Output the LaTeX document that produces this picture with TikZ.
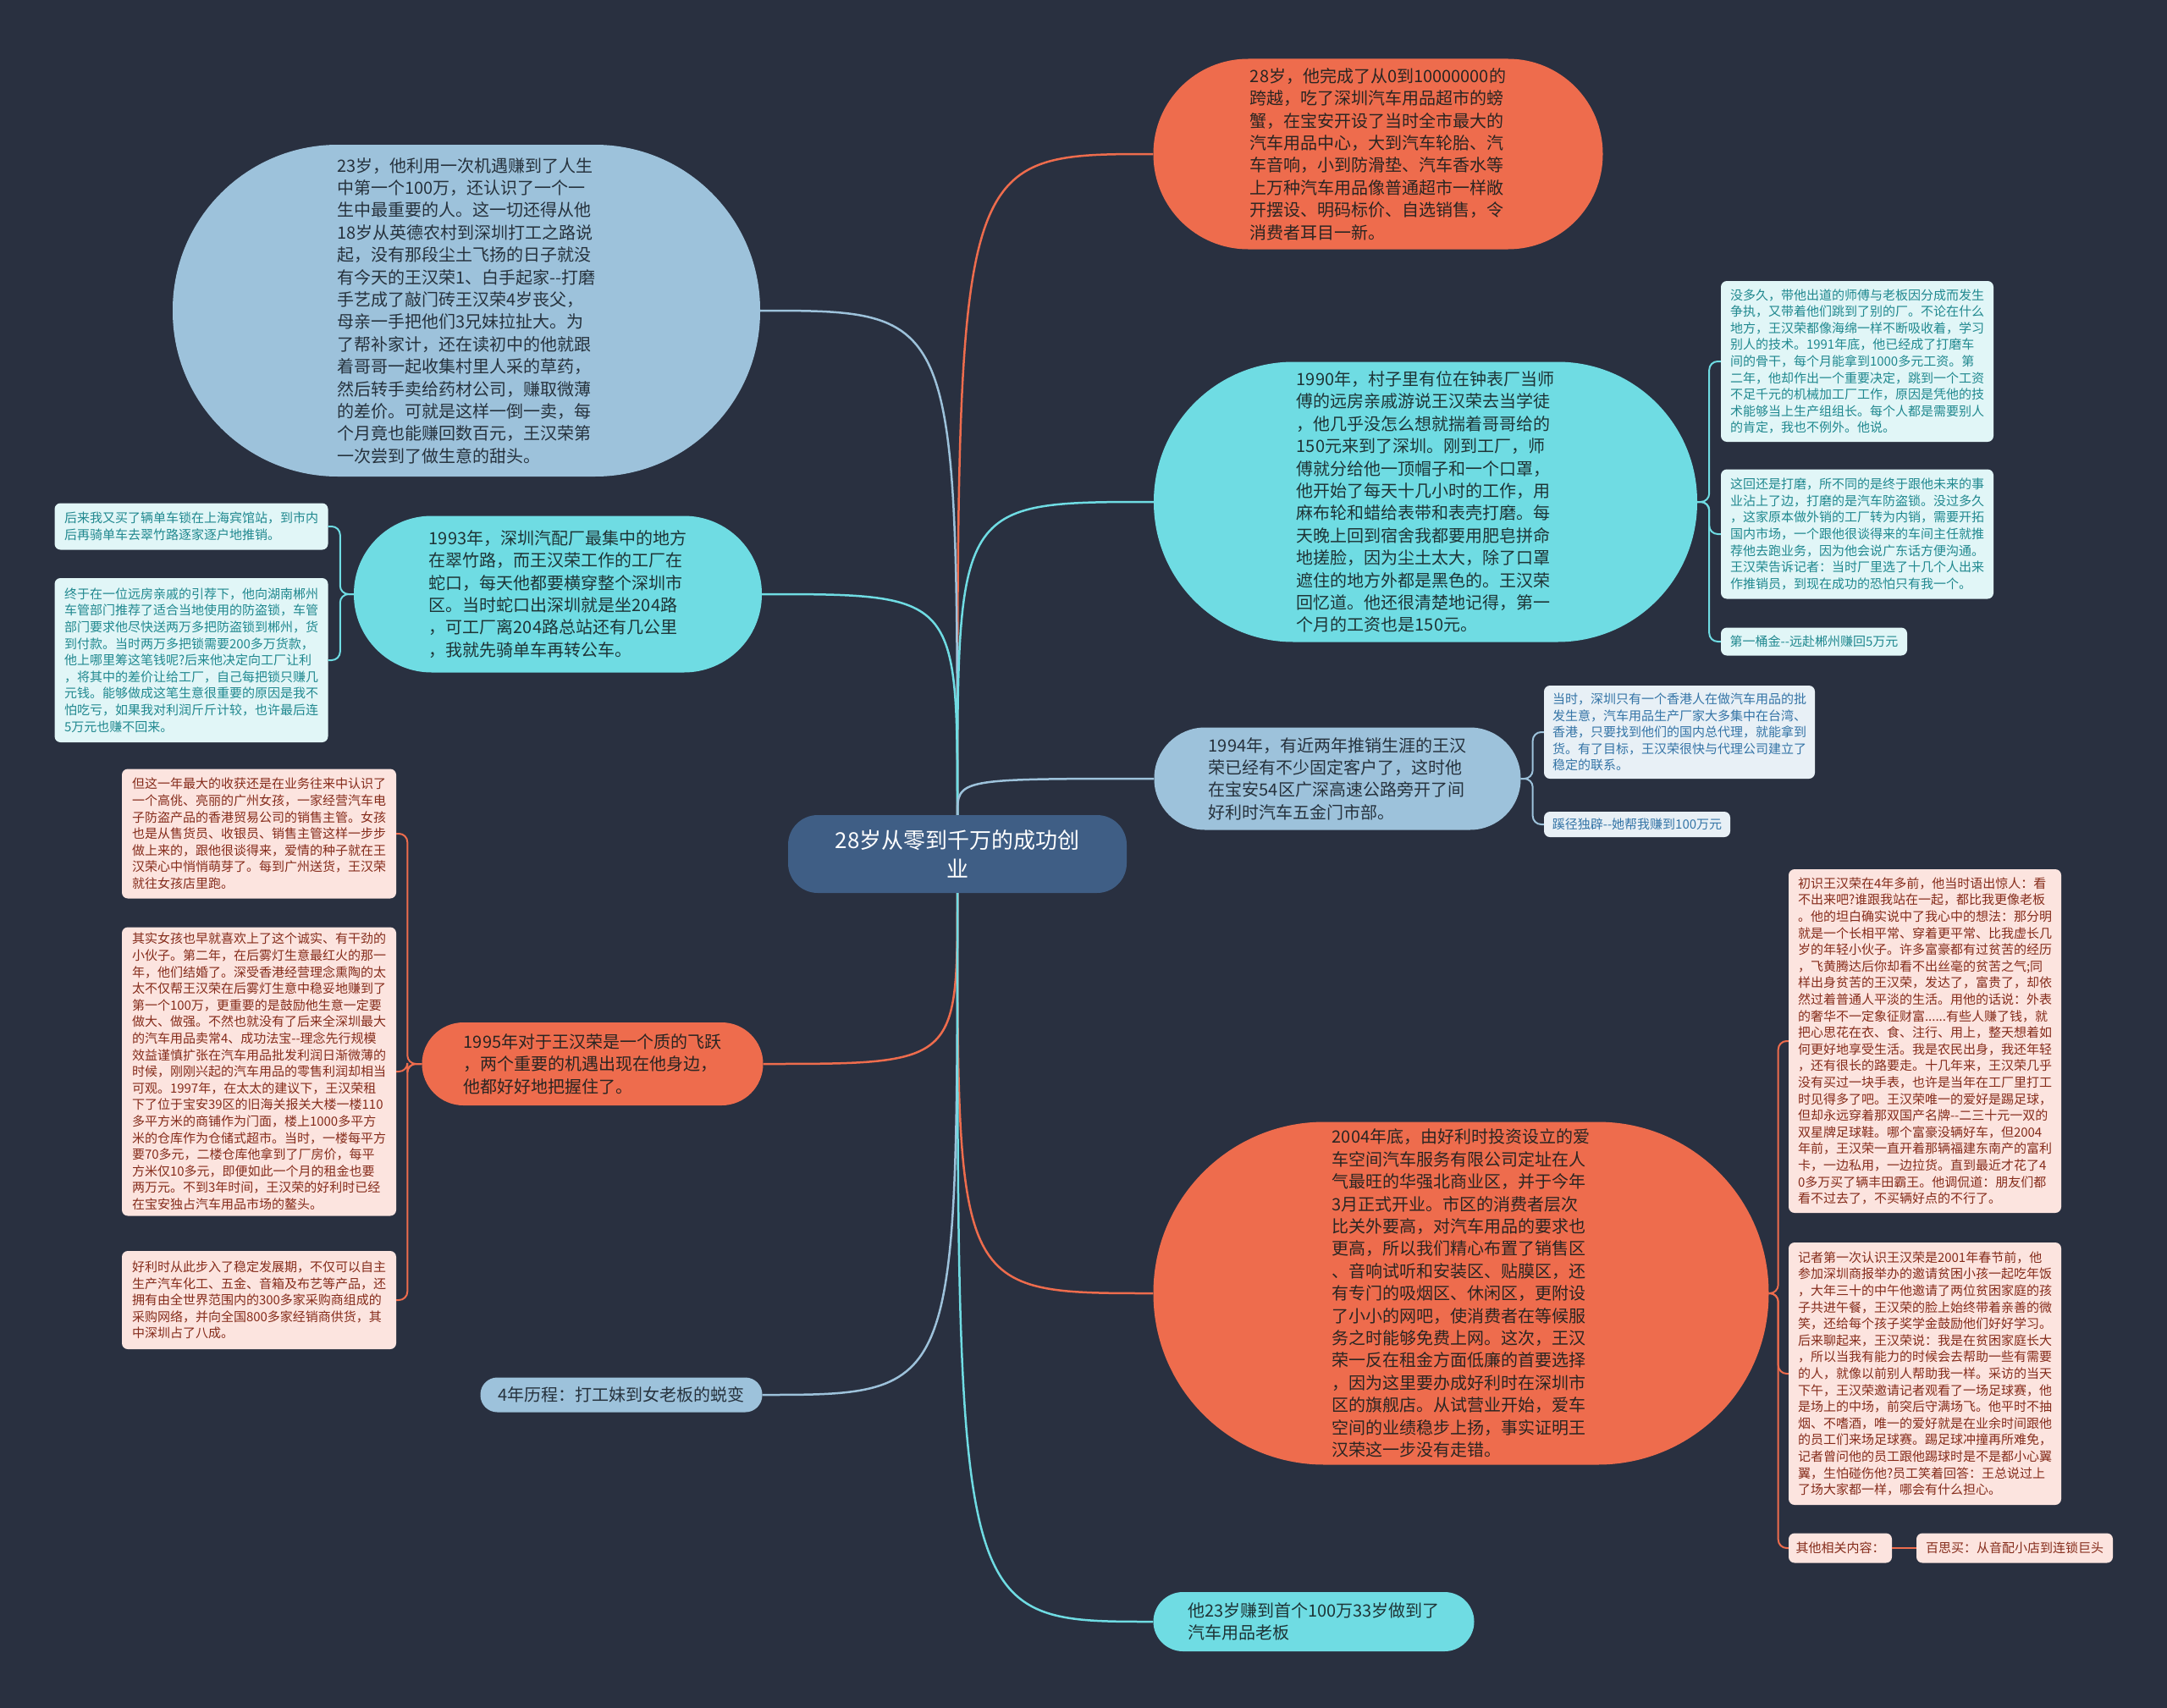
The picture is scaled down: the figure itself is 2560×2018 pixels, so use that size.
\documentclass[tikz,border=0pt]{standalone}
\usepackage{fontspec}
\setmainfont{Noto Sans CJK SC}
\usetikzlibrary{calc}
\definecolor{bg}{HTML}{293040}
\definecolor{corange}{HTML}{EE6C4D}
\definecolor{ccyan}{HTML}{6FDCE3}
\definecolor{cblue}{HTML}{9DC2DB}
\definecolor{ccenter}{HTML}{3F5E85}
\definecolor{tdark}{HTML}{2A2522}
\definecolor{tcyan}{HTML}{1E3436}
\definecolor{tblue}{HTML}{26323D}
\definecolor{fcyan}{HTML}{E1F6F7}
\definecolor{tcyansm}{HTML}{20888F}
\definecolor{fblue}{HTML}{E8F0F6}
\definecolor{tbluesm}{HTML}{3474A6}
\definecolor{fpink}{HTML}{FCE4DF}
\definecolor{tpink}{HTML}{852C1B}
\begin{document}
\begin{tikzpicture}[x=1pt,y=-1pt,
  bignode/.style={rectangle, inner sep=0pt, align=left, font=\fontsize{20}{26.4}\selectfont},
  smallbox/.style={rectangle, rounded corners=7pt, inner sep=0pt, align=left, font=\fontsize{15}{19.6}\selectfont},
  cyanbox/.style={smallbox, fill=fcyan, text=tcyansm},
  bluebox/.style={smallbox, fill=fblue, text=tbluesm},
  pinkbox/.style={smallbox, fill=fpink, text=tpink},
  orangenode/.style={bignode, fill=corange, text=tdark},
  cyannode/.style={bignode, fill=ccyan, text=tcyan},
  bluenode/.style={bignode, fill=cblue, text=tblue},
  conn/.style={line width=2.5pt},
  brk/.style={line width=2pt, rounded corners=10pt}
]
\useasboundingbox (0,0) rectangle (2560,2018);
\fill[bg] (0,0) rectangle (2560,2018);

% ---------- center ----------
\node[rectangle, fill=ccenter, text=white, align=center, inner sep=0pt,
  minimum width=400, minimum height=92, rounded corners=35,
  font=\fontsize{26}{34}\selectfont] (cn) at (1131,1009) {28岁从零到千万的成功创\\业};

% ---------- main nodes ----------
\node[orangenode, minimum width=531, minimum height=225, rounded corners=112] (n28) at (1628,182) {28岁，他完成了从0到10000000的\\跨越，吃了深圳汽车用品超市的螃\\蟹，在宝安开设了当时全市最大的\\汽车用品中心，大到汽车轮胎、汽\\车音响，小到防滑垫、汽车香水等\\上万种汽车用品像普通超市一样敞\\开摆设、明码标价、自选销售，令\\消费者耳目一新。};

\node[bluenode, minimum width=694, minimum height=392, rounded corners=195] (ntl) at (551,367) {23岁，他利用一次机遇赚到了人生\\中第一个100万，还认识了一个一\\生中最重要的人。这一切还得从他\\18岁从英德农村到深圳打工之路说\\起，没有那段尘土飞扬的日子就没\\有今天的王汉荣1、白手起家-{}-打磨\\手艺成了敲门砖王汉荣4岁丧父，\\母亲一手把他们3兄妹拉扯大。为\\了帮补家计，还在读初中的他就跟\\着哥哥一起收集村里人采的草药，\\然后转手卖给药材公司，赚取微薄\\的差价。可就是这样一倒一卖，每\\个月竟也能赚回数百元，王汉荣第\\一次尝到了做生意的甜头。};

\node[cyannode, minimum width=482, minimum height=185, rounded corners=92] (n1993) at (659,702) {1993年，深圳汽配厂最集中的地方\\在翠竹路，而王汉荣工作的工厂在\\蛇口，每天他都要横穿整个深圳市\\区。当时蛇口出深圳就是坐204路\\，可工厂离204路总站还有几公里\\，我就先骑单车再转公车。};

\node[orangenode, minimum width=403, minimum height=98, rounded corners=49] (n1995) at (700,1257) {1995年对于王汉荣是一个质的飞跃\\，两个重要的机遇出现在他身边，\\他都好好地把握住了。};

\node[bluenode, align=center, minimum width=333, minimum height=41, rounded corners=20] (n4y) at (734,1648) {4年历程：打工妹到女老板的蜕变};

\node[cyannode, minimum width=642, minimum height=331, rounded corners=165] (n1990) at (1684,593) {1990年，村子里有位在钟表厂当师\\傅的远房亲戚游说王汉荣去当学徒\\，他几乎没怎么想就揣着哥哥给的\\150元来到了深圳。刚到工厂，师\\傅就分给他一顶帽子和一个口罩，\\他开始了每天十几小时的工作，用\\麻布轮和蜡给表带和表壳打磨。每\\天晚上回到宿舍我都要用肥皂拼命\\地搓脸，因为尘土太大，除了口罩\\遮住的地方外都是黑色的。王汉荣\\回忆道。他还很清楚地记得，第一\\个月的工资也是150元。};

\node[bluenode, minimum width=433, minimum height=121, rounded corners=60] (n1994) at (1580,920) {1994年，有近两年推销生涯的王汉\\荣已经有不少固定客户了，这时他\\在宝安54区广深高速公路旁开了间\\好利时汽车五金门市部。};

\node[orangenode, minimum width=727, minimum height=405, rounded corners=202] (n2004) at (1726,1528) {2004年底，由好利时投资设立的爱\\车空间汽车服务有限公司定址在人\\气最旺的华强北商业区，并于今年\\3月正式开业。市区的消费者层次\\比关外要高，对汽车用品的要求也\\更高，所以我们精心布置了销售区\\、音响试听和安装区、贴膜区，还\\有专门的吸烟区、休闲区，更附设\\了小小的网吧，使消费者在等候服\\务之时能够免费上网。这次，王汉\\荣一反在租金方面低廉的首要选择\\，因为这里要办成好利时在深圳市\\区的旗舰店。从试营业开始，爱车\\空间的业绩稳步上扬，事实证明王\\汉荣这一步没有走错。};

\node[cyannode, minimum width=379, minimum height=70, rounded corners=35] (nbot) at (1552,1916) {他23岁赚到首个100万33岁做到了\\汽车用品老板};

% ---------- small boxes ----------
\node[cyanbox, minimum width=323, minimum height=55] (lc1) at (226,622) {后来我又买了辆单车锁在上海宾馆站，到市内\\后再骑单车去翠竹路逐家逐户地推销。};
\node[cyanbox, minimum width=323, minimum height=194] (lc2) at (226,780) {终于在一位远房亲戚的引荐下，他向湖南郴州\\车管部门推荐了适合当地使用的防盗锁，车管\\部门要求他尽快送两万多把防盗锁到郴州，货\\到付款。当时两万多把锁需要200多万货款，\\他上哪里筹这笔钱呢?后来他决定向工厂让利\\，将其中的差价让给工厂，自己每把锁只赚几\\元钱。能够做成这笔生意很重要的原因是我不\\怕吃亏，如果我对利润斤斤计较，也许最后连\\5万元也赚不回来。};

\node[pinkbox, minimum width=324, minimum height=153] (lp1) at (306,985) {但这一年最大的收获还是在业务往来中认识了\\一个高佻、亮丽的广州女孩，一家经营汽车电\\子防盗产品的香港贸易公司的销售主管。女孩\\也是从售货员、收银员、销售主管这样一步步\\做上来的，跟他很谈得来，爱情的种子就在王\\汉荣心中悄悄萌芽了。每到广州送货，王汉荣\\就往女孩店里跑。};
\node[pinkbox, minimum width=324, minimum height=341] (lp2) at (306,1266) {其实女孩也早就喜欢上了这个诚实、有干劲的\\小伙子。第二年，在后雾灯生意最红火的那一\\年，他们结婚了。深受香港经营理念熏陶的太\\太不仅帮王汉荣在后雾灯生意中稳妥地赚到了\\第一个100万，更重要的是鼓励他生意一定要\\做大、做强。不然也就没有了后来全深圳最大\\的汽车用品卖常4、成功法宝-{}-理念先行规模\\效益谨慎扩张在汽车用品批发利润日渐微薄的\\时候，刚刚兴起的汽车用品的零售利润却相当\\可观。1997年，在太太的建议下，王汉荣租\\下了位于宝安39区的旧海关报关大楼一楼110\\多平方米的商铺作为门面，楼上1000多平方\\米的仓库作为仓储式超市。当时，一楼每平方\\要70多元，二楼仓库他拿到了厂房价，每平\\方米仅10多元，即便如此一个月的租金也要\\两万元。不到3年时间，王汉荣的好利时已经\\在宝安独占汽车用品市场的鳌头。};
\node[pinkbox, minimum width=324, minimum height=116] (lp3) at (306,1536) {好利时从此步入了稳定发展期，不仅可以自主\\生产汽车化工、五金、音箱及布艺等产品，还\\拥有由全世界范围内的300多家采购商组成的\\采购网络，并向全国800多家经销商供货，其\\中深圳占了八成。};

\node[cyanbox, minimum width=322, minimum height=190] (rc1) at (2194,427) {没多久，带他出道的师傅与老板因分成而发生\\争执，又带着他们跳到了别的厂。不论在什么\\地方，王汉荣都像海绵一样不断吸收着，学习\\别人的技术。1991年底，他已经成了打磨车\\间的骨干，每个月能拿到1000多元工资。第\\二年，他却作出一个重要决定，跳到一个工资\\不足千元的机械加工厂工作，原因是凭他的技\\术能够当上生产组组长。每个人都是需要别人\\的肯定，我也不例外。他说。};
\node[cyanbox, minimum width=322, minimum height=153] (rc2) at (2194,631) {这回还是打磨，所不同的是终于跟他未来的事\\业沾上了边，打磨的是汽车防盗锁。没过多久\\，这家原本做外销的工厂转为内销，需要开拓\\国内市场，一个跟他很谈得来的车间主任就推\\荐他去跑业务，因为他会说广东话方便沟通。\\王汉荣告诉记者：当时厂里选了十几个人出来\\作推销员，到现在成功的恐怕只有我一个。};
\node[cyanbox, minimum width=220, minimum height=33] (rc3) at (2143,758) {第一桶金-{}-远赴郴州赚回5万元};

\node[bluebox, minimum width=320, minimum height=110] (bb1) at (1984,865) {当时，深圳只有一个香港人在做汽车用品的批\\发生意，汽车用品生产厂家大多集中在台湾、\\香港，只要找到他们的国内总代理，就能拿到\\货。有了目标，王汉荣很快与代理公司建立了\\稳定的联系。};
\node[bluebox, minimum width=220, minimum height=30] (bb2) at (1934,974) {蹊径独辟-{}-她帮我赚到100万元};

\node[pinkbox, minimum width=322, minimum height=406] (rp1) at (2274,1230) {初识王汉荣在4年多前，他当时语出惊人：看\\不出来吧?谁跟我站在一起，都比我更像老板\\。他的坦白确实说中了我心中的想法：那分明\\就是一个长相平常、穿着更平常、比我虚长几\\岁的年轻小伙子。许多富豪都有过贫苦的经历\\，飞黄腾达后你却看不出丝毫的贫苦之气;同\\样出身贫苦的王汉荣，发达了，富贵了，却依\\然过着普通人平淡的生活。用他的话说：外表\\的奢华不一定象征财富......有些人赚了钱，就\\把心思花在衣、食、注行、用上，整天想着如\\何更好地享受生活。我是农民出身，我还年轻\\，还有很长的路要走。十几年来，王汉荣几乎\\没有买过一块手表，也许是当年在工厂里打工\\时见得多了吧。王汉荣唯一的爱好是踢足球，\\但却永远穿着那双国产名牌-{}-二三十元一双的\\双星牌足球鞋。哪个富豪没辆好车，但2004\\年前，王汉荣一直开着那辆福建东南产的富利\\卡，一边私用，一边拉货。直到最近才花了4\\0多万买了辆丰田霸王。他调侃道：朋友们都\\看不过去了，不买辆好点的不行了。};
\node[pinkbox, minimum width=322, minimum height=310] (rp2) at (2274,1623) {记者第一次认识王汉荣是2001年春节前，他\\参加深圳商报举办的邀请贫困小孩一起吃年饭\\，大年三十的中午他邀请了两位贫困家庭的孩\\子共进午餐，王汉荣的脸上始终带着亲善的微\\笑，还给每个孩子奖学金鼓励他们好好学习。\\后来聊起来，王汉荣说：我是在贫困家庭长大\\，所以当我有能力的时候会去帮助一些有需要\\的人，就像以前别人帮助我一样。采访的当天\\下午，王汉荣邀请记者观看了一场足球赛，他\\是场上的中场，前突后守满场飞。他平时不抽\\烟、不嗜酒，唯一的爱好就是在业余时间跟他\\的员工们来场足球赛。踢足球冲撞再所难免，\\记者曾问他的员工跟他踢球时是不是都小心翼\\翼，生怕碰伤他?员工笑着回答：王总说过上\\了场大家都一样，哪会有什么担心。};
\node[pinkbox, minimum width=122, minimum height=35] (rp3) at (2174,1829) {其他相关内容：};
\node[pinkbox, minimum width=232, minimum height=35] (rp4) at (2380,1829) {百思买：从音配小店到连锁巨头};

% ---------- main connectors ----------
\draw[conn, corange] (cn.north) .. controls (cn.north |- n28.west) .. (n28.west);
\draw[conn, cblue]   (cn.north) .. controls (cn.north |- ntl.east) .. (ntl.east);
\draw[conn, ccyan]   (cn.north) .. controls (cn.north |- n1990.west) .. (n1990.west);
\draw[conn, ccyan]   (cn.north) .. controls (cn.north |- n1993.east) .. (n1993.east);
\draw[conn, cblue]   (cn.north) .. controls (cn.north |- n1994.west) .. (n1994.west);
\draw[conn, corange] (cn.south) .. controls (cn.south |- n1995.east) .. (n1995.east);
\draw[conn, corange] (cn.south) .. controls (cn.south |- n2004.west) .. (n2004.west);
\draw[conn, cblue]   (cn.south) .. controls (cn.south |- n4y.east) .. (n4y.east);
\draw[conn, ccyan]   (cn.south) .. controls (cn.south |- nbot.west) .. (nbot.west);

% ---------- bracket connectors ----------
\draw[brk, ccyan] (n1993.west) -- ++(-16,0) |- (lc1.east);
\draw[brk, ccyan] (n1993.west) -- ++(-16,0) |- (lc2.east);
\draw[brk, corange] (n1995.west) -- ++(-17,0) |- (lp1.east);
\draw[brk, corange] (n1995.west) -- ++(-17,0) |- (lp2.east);
\draw[brk, corange] (n1995.west) -- ++(-17,0) |- (lp3.east);
\draw[brk, ccyan] (n1990.east) -- ++(14,0) |- (rc1.west);
\draw[brk, ccyan] (n1990.east) -- ++(14,0) |- (rc2.west);
\draw[brk, ccyan] (n1990.east) -- ++(14,0) |- (rc3.west);
\draw[brk, cblue] (n1994.east) -- ++(14,0) |- (bb1.west);
\draw[brk, cblue] (n1994.east) -- ++(14,0) |- (bb2.west);
\draw[brk, corange] (n2004.east) -- ++(11,0) |- (rp1.west);
\draw[brk, corange] (n2004.east) -- ++(11,0) |- (rp2.west);
\draw[brk, corange] (n2004.east) -- ++(11,0) |- (rp3.west);
\draw[brk, corange] (rp3.east) -- (rp4.west);
\end{tikzpicture}
\end{document}
